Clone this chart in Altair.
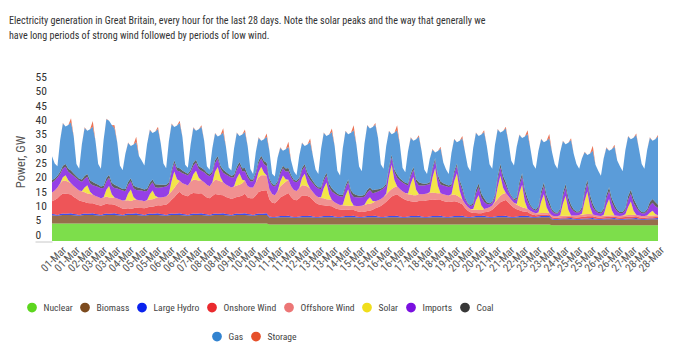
import altair as alt
import pandas as pd

TITLE = [
    "Electricity generation in Great Britain, every hour for the last 28 days. Note the solar peaks and the way that generally we",
    "have long periods of strong wind followed by periods of low wind.",
]

sources = ["Nuclear", "Biomass", "Large Hydro", "Onshore Wind", "Offshore Wind",
           "Solar", "Imports", "Coal", "Gas", "Storage"]
colors = ["#5cd61e", "#7c4a1e", "#0a22ee", "#ea2a2e", "#ec7676",
          "#f0de1c", "#7a10e0", "#383838", "#3283d0", "#e6502a"]

# x axis tick labels (one every 15 hours)
tick_labels = ["01-Mar", "01-Mar", "02-Mar", "03-Mar", "03-Mar", "04-Mar", "05-Mar", "05-Mar",
               "06-Mar", "06-Mar", "07-Mar", "08-Mar", "08-Mar", "09-Mar", "10-Mar", "10-Mar",
               "11-Mar", "11-Mar", "12-Mar", "13-Mar", "13-Mar", "14-Mar", "15-Mar", "15-Mar",
               "16-Mar", "16-Mar", "17-Mar", "18-Mar", "18-Mar", "19-Mar", "20-Mar", "20-Mar",
               "21-Mar", "21-Mar", "22-Mar", "23-Mar", "23-Mar", "24-Mar", "25-Mar", "25-Mar",
               "26-Mar", "26-Mar", "27-Mar", "28-Mar", "28-Mar"]
tick_hours = [9 + 15 * k for k in range(len(tick_labels))]

# hours since start, sampled every 3 hours (28 days)
hours = list(range(0, 672, 3))

# ---- values, GW, one row per day (8 samples per day) ----
nuclear = [
    [6.1, 6.1, 6.1, 6.1, 6.1, 6.1, 6.1, 6.1], [6.1, 6.1, 6.1, 6.1, 6.1, 6.1, 6.1, 6.1],
    [6.1, 6.1, 6.1, 6.1, 6.1, 6.1, 6.1, 6.1], [6.1, 6.1, 6.1, 6.1, 6.1, 6.1, 6.1, 6.1],
    [6.1, 6.1, 6.1, 6.1, 6.1, 6.1, 6.1, 6.1], [6.1, 6.1, 6.1, 6.1, 6.1, 6.1, 6.1, 6.1],
    [6.1, 6.1, 6.1, 6.1, 6.1, 6.1, 6.1, 6.1], [6.1, 6.1, 6.1, 6.1, 6.1, 6.1, 6.1, 6.1],
    [6.1, 6.1, 6.1, 6.1, 6.1, 6.1, 6.1, 6.1], [6.1, 6.1, 6.1, 6.1, 6.1, 6.1, 6.1, 6.1],
    [5.8, 5.8, 5.8, 5.8, 5.8, 5.8, 5.8, 5.8], [5.8, 5.8, 5.8, 5.8, 5.8, 5.8, 5.8, 5.8],
    [5.8, 5.8, 5.8, 5.8, 5.8, 5.8, 5.8, 5.8], [5.8, 5.8, 5.8, 5.8, 5.8, 5.8, 5.8, 5.8],
    [5.8, 5.8, 5.8, 5.8, 5.8, 5.8, 5.8, 5.8], [5.8, 5.8, 5.8, 5.8, 5.8, 5.8, 5.8, 5.8],
    [5.8, 5.8, 5.8, 5.8, 5.8, 5.8, 5.8, 5.8], [5.8, 5.8, 5.8, 5.8, 5.8, 5.8, 5.8, 5.8],
    [5.8, 5.8, 5.8, 5.8, 5.8, 5.8, 5.8, 5.8], [5.8, 5.8, 5.8, 5.8, 5.8, 5.8, 5.8, 5.8],
    [5.8, 5.8, 5.8, 5.8, 5.8, 5.8, 5.8, 5.8], [5.8, 5.8, 5.8, 5.8, 5.8, 5.8, 5.8, 5.8],
    [5.8, 5.8, 5.8, 5.8, 5.8, 5.8, 5.8, 5.8], [5.5, 5.5, 5.5, 5.5, 5.5, 5.5, 5.5, 5.5],
    [5.5, 5.5, 5.5, 5.5, 5.5, 5.5, 5.5, 5.5], [5.5, 5.5, 5.5, 5.5, 5.5, 5.5, 5.5, 5.5],
    [5.5, 5.5, 5.5, 5.5, 5.5, 5.5, 5.5, 5.5], [5.5, 5.5, 5.5, 5.5, 5.5, 5.5, 5.5, 5.5],
]
biomass = [
    [2.9, 2.8, 2.7, 2.9, 3.0, 3.0, 3.0, 3.0], [2.9, 2.8, 2.7, 2.9, 3.0, 3.0, 3.0, 3.0],
    [2.9, 2.8, 2.7, 2.9, 3.0, 3.0, 3.0, 3.0], [2.9, 2.8, 2.7, 2.9, 3.0, 3.0, 3.0, 3.0],
    [2.9, 2.8, 2.7, 2.9, 3.0, 3.0, 3.0, 3.0], [2.9, 2.8, 2.7, 2.9, 3.0, 3.0, 3.0, 3.0],
    [2.9, 2.8, 2.7, 2.9, 3.0, 3.0, 3.0, 3.0], [2.9, 2.8, 2.7, 2.9, 3.0, 3.0, 3.0, 3.0],
    [2.9, 2.8, 2.7, 2.9, 3.0, 3.0, 3.0, 3.0], [2.9, 2.8, 2.7, 2.9, 3.0, 3.0, 3.0, 3.0],
    [2.4, 2.3, 2.3, 2.4, 2.5, 2.5, 2.5, 2.5], [2.4, 2.3, 2.3, 2.4, 2.5, 2.5, 2.5, 2.5],
    [2.4, 2.3, 2.3, 2.4, 2.5, 2.5, 2.5, 2.5], [2.4, 2.3, 2.3, 2.4, 2.5, 2.5, 2.5, 2.5],
    [2.4, 2.3, 2.3, 2.4, 2.5, 2.5, 2.5, 2.5], [2.4, 2.3, 2.3, 2.4, 2.5, 2.5, 2.5, 2.5],
    [2.4, 2.3, 2.3, 2.4, 2.5, 2.5, 2.5, 2.5], [2.4, 2.3, 2.3, 2.4, 2.5, 2.5, 2.5, 2.5],
    [2.4, 2.3, 2.3, 2.4, 2.5, 2.5, 2.5, 2.5], [2.4, 2.3, 2.3, 2.4, 2.5, 2.5, 2.5, 2.5],
    [2.4, 2.3, 2.3, 2.4, 2.5, 2.5, 2.5, 2.5], [2.4, 2.3, 2.3, 2.4, 2.5, 2.5, 2.5, 2.5],
    [2.4, 2.3, 2.3, 2.4, 2.5, 2.5, 2.5, 2.5], [2.0, 1.9, 1.9, 2.0, 2.1, 2.1, 2.1, 2.1],
    [2.0, 1.9, 1.9, 2.0, 2.1, 2.1, 2.1, 2.1], [2.0, 1.9, 1.9, 2.0, 2.1, 2.1, 2.1, 2.1],
    [2.0, 1.9, 1.9, 2.0, 2.1, 2.1, 2.1, 2.1], [2.0, 1.9, 1.9, 2.0, 2.1, 2.1, 2.1, 2.1],
]
hydro = [
    [0.4, 0.4, 0.3, 0.4, 0.5, 0.4, 0.5, 0.6], [0.4, 0.4, 0.3, 0.4, 0.5, 0.4, 0.5, 0.6],
    [0.4, 0.4, 0.3, 0.4, 0.5, 0.4, 0.5, 0.6], [0.4, 0.4, 0.3, 0.4, 0.5, 0.4, 0.5, 0.6],
    [0.4, 0.4, 0.3, 0.4, 0.5, 0.4, 0.5, 0.6], [0.4, 0.4, 0.3, 0.4, 0.5, 0.4, 0.5, 0.6],
    [0.4, 0.4, 0.3, 0.4, 0.5, 0.4, 0.5, 0.6], [0.4, 0.4, 0.3, 0.4, 0.5, 0.4, 0.5, 0.6],
    [0.4, 0.4, 0.3, 0.4, 0.5, 0.4, 0.5, 0.6], [0.4, 0.4, 0.3, 0.4, 0.5, 0.4, 0.5, 0.6],
    [0.35, 0.3, 0.3, 0.35, 0.4, 0.4, 0.4, 0.5], [0.35, 0.3, 0.3, 0.35, 0.4, 0.4, 0.4, 0.5],
    [0.35, 0.3, 0.3, 0.35, 0.4, 0.4, 0.4, 0.5], [0.35, 0.3, 0.3, 0.35, 0.4, 0.4, 0.4, 0.5],
    [0.35, 0.3, 0.3, 0.35, 0.4, 0.4, 0.4, 0.5], [0.35, 0.3, 0.3, 0.35, 0.4, 0.4, 0.4, 0.5],
    [0.35, 0.3, 0.3, 0.35, 0.4, 0.4, 0.4, 0.5], [0.35, 0.3, 0.3, 0.35, 0.4, 0.4, 0.4, 0.5],
    [0.35, 0.3, 0.3, 0.35, 0.4, 0.4, 0.4, 0.5], [0.35, 0.3, 0.3, 0.35, 0.4, 0.4, 0.4, 0.5],
    [0.35, 0.3, 0.3, 0.35, 0.4, 0.4, 0.4, 0.5], [0.35, 0.3, 0.3, 0.35, 0.4, 0.4, 0.4, 0.5],
    [0.35, 0.3, 0.3, 0.35, 0.4, 0.4, 0.4, 0.5], [0.3, 0.3, 0.3, 0.3, 0.3, 0.3, 0.35, 0.4],
    [0.3, 0.3, 0.3, 0.3, 0.3, 0.3, 0.35, 0.4], [0.3, 0.3, 0.3, 0.3, 0.3, 0.3, 0.35, 0.4],
    [0.3, 0.3, 0.3, 0.3, 0.3, 0.3, 0.35, 0.4], [0.3, 0.3, 0.3, 0.3, 0.3, 0.3, 0.35, 0.4],
]
onshore = [
    [4.5, 5.0, 5.8, 6.5, 7.0, 7.0, 6.8, 6.5], [6.0, 5.5, 5.0, 4.5, 4.0, 3.8, 3.6, 3.5],
    [3.4, 3.3, 3.2, 3.3, 3.4, 3.3, 3.2, 3.0], [2.8, 2.5, 2.2, 1.9, 1.8, 1.7, 1.8, 2.0],
    [2.1, 2.2, 2.3, 2.3, 2.4, 2.5, 2.6, 2.8], [3.0, 3.3, 3.6, 4.0, 4.8, 5.8, 6.8, 7.5],
    [6.8, 6.6, 6.5, 7.0, 7.2, 7.2, 7.0, 7.0], [6.5, 5.9, 5.8, 6.3, 6.8, 6.7, 6.5, 6.3],
    [6.0, 5.8, 5.6, 5.6, 5.8, 6.0, 6.3, 6.8], [5.8, 5.6, 5.8, 6.5, 7.5, 8.0, 8.0, 8.0],
    [6.0, 5.0, 4.8, 5.5, 6.5, 7.0, 7.5, 8.0], [6.8, 6.0, 5.8, 6.4, 7.2, 7.2, 7.0, 6.5],
    [5.8, 5.0, 4.4, 4.0, 3.8, 3.6, 3.5, 3.3], [3.0, 2.8, 2.6, 2.4, 2.3, 2.2, 2.1, 2.0],
    [1.9, 1.8, 1.7, 1.7, 1.8, 1.9, 2.2, 2.6], [3.2, 3.8, 4.5, 5.2, 6.0, 6.8, 7.3, 7.5],
    [7.0, 6.5, 6.0, 5.5, 5.2, 5.0, 5.0, 5.2], [5.4, 5.6, 5.8, 5.8, 5.8, 5.7, 5.6, 5.5],
    [5.4, 5.3, 5.2, 5.2, 5.2, 5.0, 4.6, 4.0], [3.0, 2.2, 1.6, 1.2, 1.1, 1.0, 1.0, 1.2],
    [1.6, 2.0, 2.5, 3.2, 4.0, 4.8, 5.3, 5.5], [4.8, 4.0, 3.2, 2.5, 2.0, 1.7, 1.5, 1.3],
    [1.0, 0.8, 0.6, 0.5, 0.5, 0.5, 0.5, 0.5], [0.5, 0.4, 0.4, 0.4, 0.4, 0.4, 0.4, 0.4],
    [0.5, 0.5, 0.6, 0.6, 0.6, 0.7, 0.7, 0.6], [0.6, 0.5, 0.5, 0.5, 0.5, 0.5, 0.5, 0.5],
    [0.5, 0.5, 0.6, 0.6, 0.6, 0.6, 0.6, 0.6], [0.5, 0.4, 0.4, 0.4, 0.4, 0.4, 0.4, 0.4],
]
offshore = [
    [3.0, 3.3, 3.8, 4.2, 4.5, 4.5, 4.3, 4.0], [3.8, 3.6, 3.5, 3.5, 3.4, 3.3, 3.2, 3.0],
    [2.9, 2.8, 2.6, 2.5, 2.5, 2.4, 2.4, 2.5], [2.6, 2.7, 2.8, 2.8, 2.8, 2.8, 2.9, 2.8],
    [2.7, 2.6, 2.5, 2.5, 2.5, 2.6, 2.7, 2.8], [2.8, 2.8, 2.8, 2.9, 3.0, 3.2, 3.5, 3.8],
    [4.0, 3.9, 3.8, 4.3, 4.6, 4.6, 4.5, 4.5], [4.6, 4.4, 4.2, 4.6, 5.0, 5.0, 4.8, 4.5],
    [4.3, 4.1, 4.0, 4.0, 4.0, 4.1, 4.3, 4.6], [4.0, 3.8, 3.8, 4.5, 5.2, 5.5, 5.4, 5.2],
    [3.5, 3.0, 2.8, 3.2, 3.8, 4.2, 4.5, 4.6], [3.8, 3.4, 3.3, 3.5, 3.6, 3.5, 3.3, 3.0],
    [2.8, 2.6, 2.5, 2.5, 2.4, 2.3, 2.3, 2.2], [2.0, 1.8, 1.6, 1.5, 1.4, 1.4, 1.5, 1.6],
    [1.8, 2.0, 2.2, 2.3, 2.4, 2.4, 2.4, 2.5], [2.5, 2.5, 2.5, 2.5, 2.6, 2.7, 2.8, 2.8],
    [2.6, 2.5, 2.4, 2.3, 2.3, 2.3, 2.3, 2.4], [2.4, 2.4, 2.4, 2.4, 2.4, 2.4, 2.4, 2.4],
    [2.4, 2.4, 2.3, 2.3, 2.3, 2.2, 2.0, 1.8], [1.5, 1.3, 1.2, 1.2, 1.2, 1.1, 1.1, 1.2],
    [1.3, 1.4, 1.5, 1.8, 2.0, 2.3, 2.5, 2.5], [2.3, 2.0, 1.8, 1.6, 1.5, 1.4, 1.3, 1.2],
    [1.0, 0.8, 0.7, 0.6, 0.6, 0.6, 0.6, 0.6], [0.6, 0.5, 0.5, 0.5, 0.5, 0.5, 0.5, 0.5],
    [0.6, 0.7, 0.8, 0.8, 0.8, 0.8, 0.8, 0.7], [0.6, 0.6, 0.5, 0.5, 0.5, 0.5, 0.5, 0.5],
    [0.5, 0.5, 0.6, 0.6, 0.6, 0.6, 0.6, 0.6], [0.6, 0.6, 0.6, 0.6, 0.6, 0.6, 0.6, 0.6],
]
solar = [
    [0, 0, 0, 0.1, 1.2, 2.0, 0.5, 0], [0, 0, 0, 0.1, 1.7, 2.9, 0.8, 0],
    [0, 0, 0, 0.1, 2.4, 4.0, 1.1, 0], [0, 0, 0, 0.1, 2.4, 4.0, 1.1, 0],
    [0, 0, 0, 0.1, 1.8, 3.0, 0.9, 0], [0, 0, 0, 0.2, 3.5, 5.8, 1.7, 0],
    [0, 0, 0, 0.1, 1.9, 3.2, 1.0, 0], [0, 0, 0, 0.1, 2.8, 4.6, 1.4, 0],
    [0, 0, 0, 0.1, 2.5, 4.1, 1.2, 0], [0, 0, 0, 0.1, 1.7, 2.9, 0.9, 0],
    [0, 0, 0, 0.1, 1.8, 3.0, 0.9, 0], [0, 0, 0, 0.1, 2.5, 4.1, 1.2, 0],
    [0, 0, 0, 0.2, 3.5, 5.8, 1.7, 0], [0, 0, 0, 0.2, 3.5, 5.8, 1.7, 0],
    [0, 0, 0, 0.1, 1.4, 2.3, 0.7, 0], [0, 0, 0, 0.3, 5.1, 8.5, 2.5, 0],
    [0, 0, 0, 0.2, 3.8, 6.4, 1.9, 0], [0, 0, 0, 0.3, 5.2, 8.7, 2.6, 0],
    [0, 0, 0, 0.3, 4.7, 7.8, 2.3, 0], [0, 0, 0, 0.2, 3.1, 5.2, 1.6, 0],
    [0, 0, 0, 0.3, 4.2, 7.0, 2.1, 0], [0, 0, 0, 0.3, 4.7, 7.8, 2.3, 0],
    [0, 0, 0, 0.3, 3.9, 6.5, 2.0, 0], [0, 0, 0, 0.3, 4.2, 7.0, 2.1, 0],
    [0, 0, 0, 0.3, 4.7, 7.9, 2.4, 0], [0, 0, 0, 0.3, 3.5, 5.8, 1.8, 0],
    [0, 0, 0, 0.3, 2.8, 4.7, 1.4, 0], [0, 0, 0, 0.1, 1.0, 1.7, 0.5, 0],
]
imports = [
    [3.5, 3.5, 3.5, 3.2, 3.0, 2.9, 3.0, 3.3], [3.5, 3.5, 3.5, 3.2, 3.0, 2.9, 3.0, 3.3],
    [3.5, 3.5, 3.5, 3.2, 3.0, 2.9, 3.0, 3.3], [3.5, 3.5, 3.5, 3.2, 3.0, 2.9, 3.0, 3.3],
    [3.5, 3.5, 3.5, 3.2, 3.0, 2.9, 3.0, 3.3], [3.5, 3.5, 3.5, 3.2, 3.0, 2.9, 3.0, 3.3],
    [3.5, 3.5, 3.5, 3.2, 3.0, 2.9, 3.0, 3.3], [3.5, 3.5, 3.5, 3.2, 3.0, 2.9, 3.0, 3.3],
    [3.5, 3.5, 3.5, 3.2, 3.0, 2.9, 3.0, 3.3], [3.0, 2.2, 2.2, 2.8, 3.0, 2.9, 3.0, 3.3],
    [3.0, 3.0, 3.0, 2.8, 2.6, 2.5, 2.7, 3.0], [3.0, 3.0, 3.0, 2.8, 2.6, 2.5, 2.7, 3.0],
    [3.0, 3.0, 3.0, 2.8, 2.6, 2.5, 2.7, 3.0], [3.0, 3.0, 3.0, 2.8, 2.6, 2.5, 2.7, 3.0],
    [3.0, 3.0, 3.0, 2.8, 2.6, 2.5, 2.7, 3.0], [3.0, 3.0, 3.0, 2.8, 2.6, 2.5, 2.7, 3.0],
    [3.0, 3.0, 3.0, 2.8, 2.6, 2.5, 2.7, 3.0], [3.0, 3.0, 3.0, 2.8, 2.6, 2.5, 2.7, 3.0],
    [3.0, 3.0, 3.0, 2.8, 2.6, 2.5, 2.7, 3.0], [1.5, 1.0, 0.9, 1.5, 2.5, 2.8, 2.8, 2.5],
    [1.5, 1.0, 0.9, 1.5, 2.5, 2.8, 2.8, 2.5], [1.5, 1.0, 0.9, 1.5, 2.5, 2.8, 2.8, 2.5],
    [1.5, 1.0, 0.9, 1.5, 2.5, 2.8, 2.8, 2.5], [1.5, 1.0, 0.9, 1.5, 2.5, 2.8, 2.8, 2.5],
    [1.5, 1.0, 0.9, 1.5, 2.5, 2.8, 2.8, 2.5], [1.5, 1.0, 0.9, 1.5, 2.5, 2.8, 2.8, 2.5],
    [1.5, 1.0, 0.9, 1.5, 2.5, 2.8, 2.8, 2.5], [1.5, 1.0, 0.9, 1.5, 2.5, 2.8, 2.8, 2.5],
]
coal = [
    [0.9, 0.7, 0.6, 0.8, 1.0, 1.0, 1.0, 1.1], [0.9, 0.7, 0.6, 0.8, 1.0, 1.0, 1.0, 1.1],
    [0.9, 0.7, 0.6, 0.8, 1.0, 1.0, 1.0, 1.1], [0.9, 0.7, 0.6, 0.8, 1.0, 1.0, 1.0, 1.1],
    [0.9, 0.7, 0.6, 0.8, 1.0, 1.0, 1.0, 1.1], [0.9, 0.7, 0.6, 0.8, 1.0, 1.0, 1.0, 1.1],
    [0.9, 0.7, 0.6, 0.8, 1.0, 1.0, 1.0, 1.1], [0.9, 0.7, 0.6, 0.8, 1.0, 1.0, 1.0, 1.1],
    [0.9, 0.7, 0.6, 0.8, 1.0, 1.0, 1.0, 1.1], [0.9, 0.7, 0.6, 0.8, 1.0, 1.0, 1.0, 1.1],
    [0.8, 0.6, 0.5, 0.7, 0.9, 0.9, 1.0, 1.1], [0.8, 0.6, 0.5, 0.7, 0.9, 0.9, 1.0, 1.1],
    [0.8, 0.6, 0.5, 0.7, 0.9, 0.9, 1.0, 1.1], [0.8, 0.6, 0.5, 0.7, 0.9, 0.9, 1.0, 1.1],
    [0.8, 0.6, 0.5, 0.7, 0.9, 0.9, 1.0, 1.1], [0.8, 0.6, 0.5, 0.7, 0.9, 0.9, 1.0, 1.1],
    [0.8, 0.6, 0.5, 0.7, 0.9, 0.9, 1.0, 1.1], [0.8, 0.6, 0.5, 0.7, 0.9, 0.9, 1.0, 1.1],
    [0.8, 0.6, 0.5, 0.7, 0.9, 0.9, 1.0, 1.1], [0.6, 0.4, 0.4, 0.7, 1.2, 1.3, 1.4, 1.2],
    [0.6, 0.4, 0.4, 0.7, 1.2, 1.3, 1.4, 1.2], [0.6, 0.4, 0.4, 0.7, 1.2, 1.3, 1.4, 1.2],
    [0.6, 0.4, 0.4, 0.7, 1.2, 1.3, 1.4, 1.2], [0.6, 0.4, 0.4, 0.7, 1.2, 1.3, 1.4, 1.2],
    [0.6, 0.4, 0.4, 0.7, 1.2, 1.3, 1.4, 1.2], [0.6, 0.4, 0.4, 0.7, 1.2, 1.3, 1.4, 1.2],
    [0.6, 0.4, 0.4, 0.7, 1.2, 1.3, 1.4, 1.2], [0.6, 0.4, 0.4, 0.7, 1.2, 1.3, 1.4, 1.2],
]
gas = [
    [8.3, 5.3, 3.3, 11.1, 14.7, 13.1, 15.3, 16.8], [12.9, 4.3, 3.5, 12.4, 16.8, 15.1, 17.8, 19.3],
    [14.9, 7.3, 6.2, 16.1, 20.6, 18.9, 20.2, 19.8], [15.3, 7.7, 6.5, 12.3, 13.6, 11.3, 14.3, 15.7],
    [11.1, 9.8, 8.4, 15.6, 18.4, 16.2, 18.4, 19.4], [14.6, 7.5, 5.8, 14.3, 15.9, 11.6, 14.7, 15.8],
    [11.7, 2.6, 2.1, 8.8, 12.2, 10.1, 12.9, 14.3], [10.1, 2.3, 1.7, 8.0, 9.3, 6.8, 10.7, 13.0],
    [8.9, 2.3, 1.8, 9.3, 11.8, 9.1, 11.8, 12.6], [10.1, 3.5, 1.9, 7.0, 8.0, 5.2, 7.6, 9.1],
    [9.7, 3.5, 3.0, 8.2, 8.2, 5.2, 6.7, 7.4], [5.1, 3.0, 2.0, 7.8, 8.7, 6.3, 9.8, 12.2],
    [8.8, 5.4, 4.6, 13.4, 15.8, 12.9, 17.3, 19.7], [15.9, 7.9, 6.8, 16.2, 18.9, 15.8, 20.1, 22.2],
    [17.8, 10.2, 8.6, 18.0, 22.5, 20.6, 22.1, 22.7], [17.8, 8.5, 6.3, 13.2, 12.4, 7.2, 12.8, 15.5],
    [11.9, 4.6, 3.7, 11.3, 12.5, 9.2, 13.9, 15.9], [11.4, 5.0, 3.3, 8.1, 6.3, 2.0, 8.4, 11.5],
    [7.3, 5.3, 4.0, 11.0, 11.1, 7.4, 13.7, 17.2], [15.9, 12.7, 11.9, 19.2, 19.9, 16.6, 20.6, 23.2],
    [19.7, 13.6, 11.5, 17.6, 16.3, 11.0, 15.6, 18.8], [16.7, 12.2, 11.7, 17.8, 16.4, 12.3, 18.5, 22.4],
    [19.9, 15.4, 14.2, 19.4, 18.1, 14.1, 19.0, 22.3], [20.1, 16.9, 15.3, 19.9, 18.1, 13.9, 19.2, 22.7],
    [19.4, 16.6, 14.8, 17.1, 13.3, 8.6, 14.5, 18.5], [15.5, 14.3, 12.8, 17.5, 16.4, 12.7, 17.1, 20.3],
    [17.2, 16.0, 14.2, 20.3, 20.9, 17.6, 21.3, 24.1], [21.1, 16.8, 15.2, 20.7, 22.4, 20.3, 21.9, 23.8],
]
storage = [
    [0, 0, 0, 0, 0.2, 0, 0, 1.5], [0.1, 0, 0, 0, 0.2, 0, 0, 2.0],
    [0, 0, 0, 0, 0.2, 0, 0, 1.0], [0, 0, 0, 0, 0.2, 0, 0, 1.8],
    [0, 0, 0, 0, 0.2, 0, 0, 0.8], [0, 0, 0, 0, 0.2, 0, 0, 0.8],
    [0, 0, 0, 0, 0.2, 0, 0, 0.5], [0, 0, 0, 0, 0.2, 0, 0, 1.5],
    [0, 0, 0, 0, 0.2, 0, 0, 0.8], [0, 0, 0, 0, 0.2, 0, 0, 1.1],
    [0, 0, 0, 0, 0.2, 0, 0, 1.8], [0, 0, 0, 0, 0.2, 0, 0, 1.2],
    [0, 0, 0, 0, 0.2, 0, 0, 1.2], [0, 0, 0, 0, 0.2, 0, 0, 1.7],
    [0, 0, 0, 0, 0.2, 0, 0, 0.5], [0, 0, 0, 0, 0.2, 0, 0, 1.7],
    [0, 0, 0, 0, 0.2, 0, 0, 0.5], [0, 0, 0, 0, 0.2, 0, 0, 0.6],
    [0, 0, 0, 0, 0.2, 0, 0, 0.8], [0, 0, 0, 0, 0.2, 0, 0, 0.6],
    [0, 0, 0, 0, 0.2, 0, 0, 0.6], [0, 0, 0, 0, 0.2, 0, 0, 1.3],
    [0, 0, 0, 0, 0.2, 0, 0, 1.5], [0, 0, 0, 0, 0.2, 0, 0, 0.6],
    [0, 0, 0, 0, 0.2, 0, 0, 1.8], [0, 0, 0, 0, 0.2, 0, 0, 0.6],
    [0, 0, 0, 0, 0.2, 0, 0, 0.5], [0, 0, 0, 0, 0.2, 0, 0, 0.5],
]

series = [nuclear, biomass, hydro, onshore, offshore, solar, imports, coal, gas, storage]

rows = []
for rank, (name, daily) in enumerate(zip(sources, series)):
    values = [v for day in daily for v in day]
    for h, v in zip(hours, values):
        rows.append({"hour": h, "source": name, "gw": v, "rank": rank})
df = pd.DataFrame(rows)

FONT = "'Roboto Condensed', 'Liberation Sans Narrow', Roboto, sans-serif"
label_expr = "[" + ",".join("'%s'" % s for s in tick_labels) + "][round((datum.value - 9) / 15)]"


def legend_style(values, x, y):
    return alt.Legend(
        values=values, orient="none", legendX=x, legendY=y, direction="horizontal",
        columns=len(values), title=None, symbolType="circle", symbolSize=95,
        symbolStrokeWidth=0, symbolOpacity=1, labelFont=FONT, labelFontSize=9.6,
        labelColor="#444444", labelOffset=6.5, columnPadding=7, padding=0,
    )


areas = alt.Chart(df).mark_area(opacity=0.8, interpolate="linear").encode(
    x=alt.X("hour:Q",
            scale=alt.Scale(domain=[0, 669], nice=False, zero=False),
            axis=alt.Axis(values=tick_hours, labelExpr=label_expr, labelAngle=-45,
                          labelAlign="right", labelBaseline="top", labelOverlap=False,
                          labelFlush=False, labelBound=False, labelFont=FONT,
                          labelFontSize=11, labelColor="#555555", labelPadding=3,
                          ticks=False, domain=False, grid=False, title=None)),
    y=alt.Y("gw:Q", stack="zero",
            scale=alt.Scale(domain=[0, 55], nice=False),
            axis=alt.Axis(values=list(range(0, 60, 5)), grid=False, domain=False,
                          ticks=True, tickSize=17, tickWidth=1,
                          tickColor=alt.condition("datum.value == 0", alt.value("#c8c8c8"), alt.value("transparent")),
                          labelAlign="left", labelPadding=0, labelOffset=-6,
                          labelFont=FONT, labelFontSize=11.5, labelColor="#333333",
                          title="Power, GW", titleFont=FONT, titleFontSize=12.5,
                          titleFontWeight="normal", titleColor="#555555",
                          titleX=-32, titleY=78, titleAngle=-90,
                          titleBaseline="middle", titleAlign="center")),
    color=alt.Color("source:N", scale=alt.Scale(domain=sources, range=colors),
                    legend=legend_style(sources[:8], -25, 219)),
    order=alt.Order("rank:Q", sort="ascending"),
)

legend2 = alt.Chart(pd.DataFrame({"source": ["Gas", "Storage"]})).mark_point(
    filled=True, opacity=0
).encode(
    fill=alt.Fill("source:N", scale=alt.Scale(domain=["Gas", "Storage"], range=[colors[8], colors[9]]),
                  legend=legend_style(["Gas", "Storage"], 160, 248)),
)

chart = alt.layer(areas, legend2).properties(
    width=606, height=157.5,
    autosize=alt.AutoSizeParams(type="none"),
    padding={"left": 44, "top": 75.5, "right": 14, "bottom": 108},
    title=alt.Title(text=TITLE, anchor="start", frame="group", dx=-43, offset=30,
                    font=FONT, fontSize=10.1, fontWeight="normal", color="#333333",
                    lineHeight=15),
).configure_view(stroke=None)

chart.save("out.html", embed_options={"renderer": "svg", "actions": False})
